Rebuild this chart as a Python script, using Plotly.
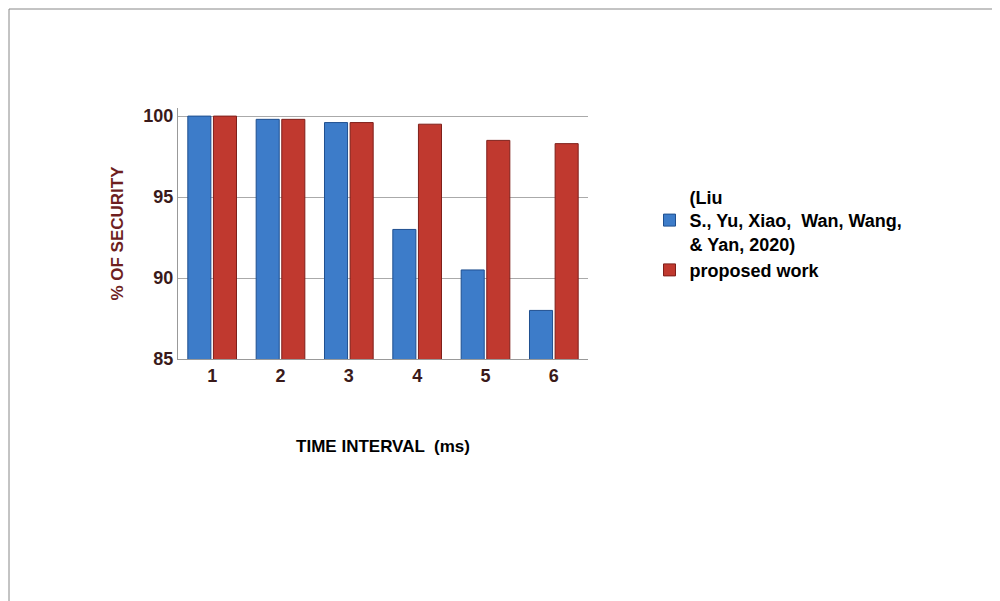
import plotly.graph_objects as go

categories = ["1", "2", "3", "4", "5", "6"]
liu_values = [100, 99.8, 99.6, 93, 90.5, 88]
proposed_values = [100, 99.8, 99.6, 99.5, 98.5, 98.3]
y_ticks = [85, 90, 95, 100]

fig = go.Figure()
fig.add_bar(x=categories, y=liu_values, name="<b>(Liu<br>S., Yu, Xiao,  Wan, Wang,<br>& Yan, 2020)</b>",
            marker=dict(color="#3d7cc9", line=dict(color="#1f4f8f", width=1)))
fig.add_bar(x=categories, y=proposed_values, name="<b>proposed work</b>",
            marker=dict(color="#c0392f", line=dict(color="#7f1f1a", width=1)))

fig.update_layout(
    width=1000, height=601,
    paper_bgcolor="white", plot_bgcolor="white",
    barmode="group", bargap=0.25, bargroupgap=0.1,
    margin=dict(l=170, r=420, t=100, b=250, autoexpand=False),
    font=dict(family="Liberation Sans, Arial", size=18, color="#3a1a1a"),
    legend=dict(x=1.15, y=0.5, yanchor="middle", font=dict(size=18, color="#000"),
                tracegroupgap=10),
    xaxis=dict(title=dict(text="<b>TIME INTERVAL  (ms)</b>", font=dict(size=17, color="#000"), standoff=55),
               tickfont=dict(size=18, color="#3a1a1a", weight="bold"), showline=True, linecolor="#999"),
    yaxis=dict(title=dict(text="<b>% OF SECURITY</b>", font=dict(size=17, color="#6e1f1f")),
               range=[85, 100.5], tickvals=y_ticks, tickfont=dict(size=18, color="#3a1a1a", weight="bold"),
               showgrid=True, gridcolor="#aaa", showline=True, linecolor="#999"),
)
pw, ph = 1000 - 170 - 420, 601 - 100 - 250
fig.add_shape(type="rect", xref="paper", yref="paper",
              x0=-169 / pw, x1=(998 - 170) / pw, y0=-249 / ph, y1=(601 - 250 - 1) / ph,
              line=dict(color="#888", width=1))
fig.write_html("out.html")
